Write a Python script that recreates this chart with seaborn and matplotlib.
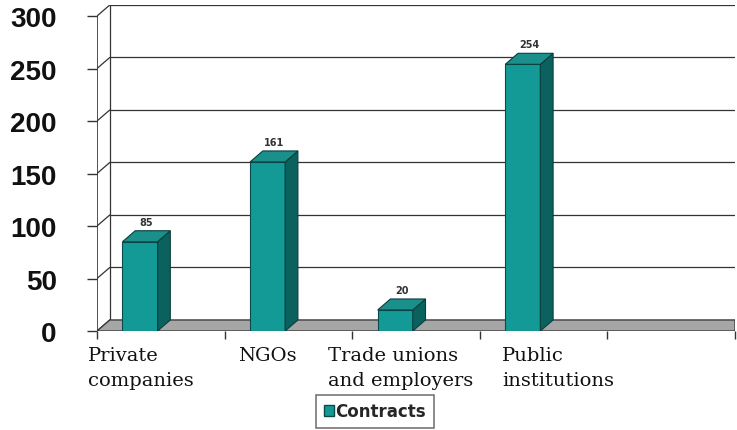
import matplotlib
matplotlib.use("Agg")
import matplotlib.pyplot as plt
import seaborn as sns
import pandas as pd
from matplotlib.patches import Polygon, Patch

categories = ["Private\ncompanies", "NGOs", "Trade unions\nand employers", "Public\ninstitutions"]
contracts = [85, 161, 20, 254]
value_labels = ["85", "161", "20", "254"]
series_name = "Contracts"
y_ticks = [0, 50, 100, 150, 200, 250, 300]

df = pd.DataFrame({"category": categories, "value": contracts})

sns.set_style("white")
plt.rcParams["font.family"] = ["Liberation Sans", "DejaVu Sans"]

fig = plt.figure(figsize=(7.37, 4.31), dpi=100)
ax = fig.add_axes([97 / 737, 1 - 332 / 431, 638 / 737, 326 / 431])

front = "#149a96"
side = "#0b615e"
top = "#1a8f8b"
line_c = "#333333"

sns.barplot(data=df, x="category", y="value", color=front, width=0.275,
            saturation=1, ax=ax, edgecolor="#0a4a48", linewidth=0.8, zorder=3)

a = -0.337
xmax = a + 5
dx, dy = 0.1, 10.5
ax.set_xlim(a, xmax)
ax.set_ylim(0, 310.5)

# back wall / grid
for v in y_ticks:
    ax.plot([a + dx, xmax], [v + dy, v + dy], color=line_c, lw=0.9, zorder=1)
    ax.plot([a, a + dx], [v, v + dy], color=line_c, lw=0.9, zorder=1)
ax.plot([a + dx, a + dx], [dy, 300 + dy], color=line_c, lw=0.9, zorder=1)
ax.plot([a, a], [0, 300], color=line_c, lw=1.2, zorder=2)

# floor
floor = Polygon([(a, 0), (a + dx, dy), (xmax, dy), (xmax, 0)], closed=True,
                facecolor="#a6a6a6", edgecolor=line_c, lw=0.9, zorder=2)
ax.add_patch(floor)

# 3D faces derived from the drawn bars
for bar, lab in zip(ax.patches[:len(contracts)], value_labels):
    x0 = bar.get_x()
    w = bar.get_width()
    h = bar.get_height()
    ax.add_patch(Polygon([(x0 + w, 0), (x0 + w + dx, dy), (x0 + w + dx, h + dy), (x0 + w, h)],
                         closed=True, facecolor=side, edgecolor="#0a3f3d", lw=0.8, zorder=4))
    ax.add_patch(Polygon([(x0, h), (x0 + dx, h + dy), (x0 + w + dx, h + dy), (x0 + w, h)],
                         closed=True, facecolor=top, edgecolor="#0a3f3d", lw=0.8, zorder=4))
    ax.text(x0 + (w + dx) / 2, h + dy + 4, lab, ha="center", va="bottom",
            fontsize=7, fontweight="bold", family=["DejaVu Sans"], color="#333333", zorder=5)

for s in ["top", "right", "bottom", "left"]:
    ax.spines[s].set_visible(False)

ax.set_yticks(y_ticks)
ax.set_yticklabels([str(v) for v in y_ticks], fontsize=20, fontweight="bold", color="#111111")
ax.tick_params(axis="y", left=True, length=7, width=1, color=line_c, pad=22)
ax.set_xticks([a + k for k in range(6)])
ax.set_xticklabels([""] * 6)
ax.tick_params(axis="x", bottom=True, length=6, width=1, color=line_c, direction="out")
ax.set_xlabel("")
ax.set_ylabel("")

label_x = [-0.408, 0.768, 1.473, 2.837]
for lx, c in zip(label_x, categories):
    ax.text(lx, -14, c, ha="left", va="top", fontsize=14,
            family=["DejaVu Serif"], color="#111111",
            linespacing=1.5, clip_on=False)

handle = Patch(facecolor=front, edgecolor="#0a4a48", label=series_name)
leg = fig.legend(handles=[handle], loc="center", bbox_to_anchor=(375 / 737, 1 - 412.5 / 431),
                 frameon=True, fancybox=False, handlelength=0.6, handleheight=0.6,
                 handletextpad=0.1, borderpad=0.45,
                 prop={"family": "DejaVu Sans", "weight": "bold", "size": 12})
leg.get_frame().set_edgecolor("#555555")
leg.get_frame().set_linewidth(1.2)

fig.savefig("out.png", dpi=100)
